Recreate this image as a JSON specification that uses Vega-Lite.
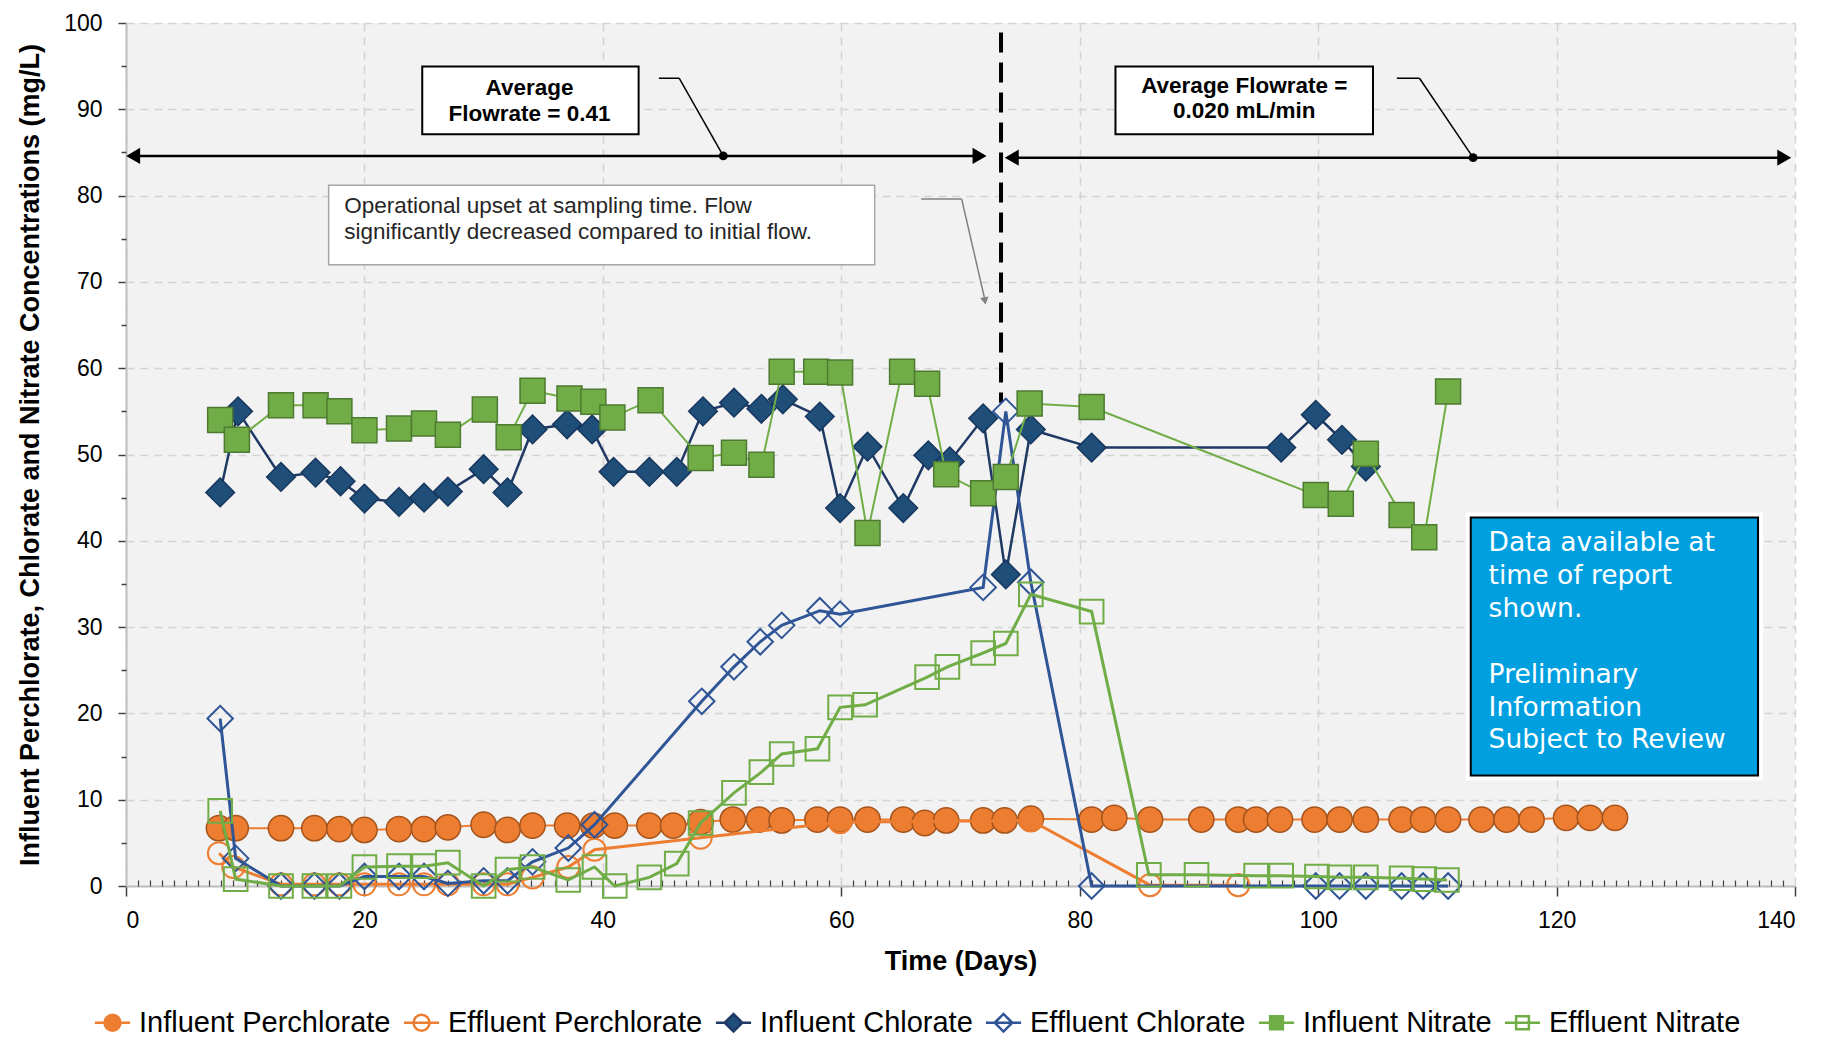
{
  "$schema": "https://vega.github.io/schema/vega-lite/v6.json",
  "width": 1669,
  "height": 863,
  "autosize": {"type": "none"},
  "padding": {"left": 126, "top": 23, "right": 41, "bottom": 153},
  "background": "white",
  "config": {
    "font": "Liberation Sans",
    "view": {"fill": "#f2f2f2", "stroke": null}
  },
  "datasets": {
    "obs": [
      {"s": "Influent Perchlorate", "d": 7.8, "c": 6.7}, {"s": "Influent Perchlorate", "d": 9.2, "c": 6.7}, {"s": "Influent Perchlorate", "d": 13.0, "c": 6.7}, {"s": "Influent Perchlorate", "d": 15.8, "c": 6.7}, {"s": "Influent Perchlorate", "d": 17.9, "c": 6.6}, {"s": "Influent Perchlorate", "d": 20.0, "c": 6.5}, {"s": "Influent Perchlorate", "d": 22.9, "c": 6.6}, {"s": "Influent Perchlorate", "d": 25.0, "c": 6.6}, {"s": "Influent Perchlorate", "d": 27.0, "c": 6.8}, {"s": "Influent Perchlorate", "d": 30.0, "c": 7.1}, {"s": "Influent Perchlorate", "d": 32.0, "c": 6.5}, {"s": "Influent Perchlorate", "d": 34.1, "c": 7.0}, {"s": "Influent Perchlorate", "d": 37.0, "c": 7.0}, {"s": "Influent Perchlorate", "d": 39.2, "c": 7.0}, {"s": "Influent Perchlorate", "d": 41.0, "c": 7.0}, {"s": "Influent Perchlorate", "d": 43.9, "c": 7.0}, {"s": "Influent Perchlorate", "d": 45.9, "c": 7.0}, {"s": "Influent Perchlorate", "d": 48.2, "c": 7.4}, {"s": "Influent Perchlorate", "d": 50.9, "c": 7.7}, {"s": "Influent Perchlorate", "d": 53.1, "c": 7.7}, {"s": "Influent Perchlorate", "d": 55.0, "c": 7.6}, {"s": "Influent Perchlorate", "d": 58.0, "c": 7.7}, {"s": "Influent Perchlorate", "d": 59.9, "c": 7.7}, {"s": "Influent Perchlorate", "d": 62.2, "c": 7.7}, {"s": "Influent Perchlorate", "d": 65.2, "c": 7.7}, {"s": "Influent Perchlorate", "d": 67.0, "c": 7.3}, {"s": "Influent Perchlorate", "d": 68.8, "c": 7.6}, {"s": "Influent Perchlorate", "d": 71.9, "c": 7.6}, {"s": "Influent Perchlorate", "d": 73.7, "c": 7.6}, {"s": "Influent Perchlorate", "d": 75.9, "c": 7.8}, {"s": "Influent Perchlorate", "d": 81.0, "c": 7.7}, {"s": "Influent Perchlorate", "d": 82.9, "c": 7.9}, {"s": "Influent Perchlorate", "d": 85.9, "c": 7.7}, {"s": "Influent Perchlorate", "d": 90.2, "c": 7.7}, {"s": "Influent Perchlorate", "d": 93.3, "c": 7.7}, {"s": "Influent Perchlorate", "d": 94.8, "c": 7.7}, {"s": "Influent Perchlorate", "d": 96.8, "c": 7.7}, {"s": "Influent Perchlorate", "d": 99.7, "c": 7.7}, {"s": "Influent Perchlorate", "d": 101.8, "c": 7.7}, {"s": "Influent Perchlorate", "d": 104.0, "c": 7.7}, {"s": "Influent Perchlorate", "d": 107.0, "c": 7.7}, {"s": "Influent Perchlorate", "d": 108.8, "c": 7.7}, {"s": "Influent Perchlorate", "d": 110.9, "c": 7.7}, {"s": "Influent Perchlorate", "d": 113.7, "c": 7.7}, {"s": "Influent Perchlorate", "d": 115.8, "c": 7.7}, {"s": "Influent Perchlorate", "d": 117.9, "c": 7.7}, {"s": "Influent Perchlorate", "d": 120.8, "c": 7.9}, {"s": "Influent Perchlorate", "d": 122.8, "c": 7.9}, {"s": "Influent Perchlorate", "d": 124.9, "c": 7.9},

      {"s": "Effluent Perchlorate", "d": 7.8, "c": 3.8}, {"s": "Effluent Perchlorate", "d": 9.0, "c": 2.2}, {"s": "Effluent Perchlorate", "d": 13.0, "c": 0.2}, {"s": "Effluent Perchlorate", "d": 15.8, "c": 0.2}, {"s": "Effluent Perchlorate", "d": 17.9, "c": 0.2}, {"s": "Effluent Perchlorate", "d": 20.0, "c": 0.2}, {"s": "Effluent Perchlorate", "d": 22.9, "c": 0.2}, {"s": "Effluent Perchlorate", "d": 25.0, "c": 0.2}, {"s": "Effluent Perchlorate", "d": 27.0, "c": 0.2}, {"s": "Effluent Perchlorate", "d": 30.0, "c": 0.2}, {"s": "Effluent Perchlorate", "d": 32.0, "c": 0.2}, {"s": "Effluent Perchlorate", "d": 34.1, "c": 1.0}, {"s": "Effluent Perchlorate", "d": 37.1, "c": 2.2}, {"s": "Effluent Perchlorate", "d": 39.3, "c": 4.2}, {"s": "Effluent Perchlorate", "d": 48.2, "c": 5.6}, {"s": "Effluent Perchlorate", "d": 59.9, "c": 7.4}, {"s": "Effluent Perchlorate", "d": 75.9, "c": 7.6}, {"s": "Effluent Perchlorate", "d": 85.9, "c": 0.1}, {"s": "Effluent Perchlorate", "d": 93.3, "c": 0.1},

      {"s": "Influent Chlorate", "d": 7.9, "c": 45.6}, {"s": "Influent Chlorate", "d": 9.4, "c": 55.0}, {"s": "Influent Chlorate", "d": 13.0, "c": 47.4}, {"s": "Influent Chlorate", "d": 15.9, "c": 47.9}, {"s": "Influent Chlorate", "d": 18.0, "c": 46.9}, {"s": "Influent Chlorate", "d": 20.0, "c": 44.9}, {"s": "Influent Chlorate", "d": 22.9, "c": 44.5}, {"s": "Influent Chlorate", "d": 25.0, "c": 45.0}, {"s": "Influent Chlorate", "d": 27.0, "c": 45.7}, {"s": "Influent Chlorate", "d": 30.0, "c": 48.3}, {"s": "Influent Chlorate", "d": 32.0, "c": 45.6}, {"s": "Influent Chlorate", "d": 34.1, "c": 52.9}, {"s": "Influent Chlorate", "d": 37.0, "c": 53.5}, {"s": "Influent Chlorate", "d": 39.1, "c": 52.9}, {"s": "Influent Chlorate", "d": 40.9, "c": 48.0}, {"s": "Influent Chlorate", "d": 43.9, "c": 48.0}, {"s": "Influent Chlorate", "d": 46.2, "c": 48.0}, {"s": "Influent Chlorate", "d": 48.4, "c": 55.0}, {"s": "Influent Chlorate", "d": 51.0, "c": 56.0}, {"s": "Influent Chlorate", "d": 53.3, "c": 55.3}, {"s": "Influent Chlorate", "d": 55.1, "c": 56.4}, {"s": "Influent Chlorate", "d": 58.2, "c": 54.4}, {"s": "Influent Chlorate", "d": 59.9, "c": 43.8}, {"s": "Influent Chlorate", "d": 62.2, "c": 50.9}, {"s": "Influent Chlorate", "d": 65.2, "c": 43.8}, {"s": "Influent Chlorate", "d": 67.3, "c": 49.9}, {"s": "Influent Chlorate", "d": 69.1, "c": 49.2}, {"s": "Influent Chlorate", "d": 71.9, "c": 54.2}, {"s": "Influent Chlorate", "d": 73.8, "c": 36.1}, {"s": "Influent Chlorate", "d": 75.9, "c": 52.9}, {"s": "Influent Chlorate", "d": 81.0, "c": 50.8}, {"s": "Influent Chlorate", "d": 96.9, "c": 50.8}, {"s": "Influent Chlorate", "d": 99.8, "c": 54.6}, {"s": "Influent Chlorate", "d": 102.0, "c": 51.7}, {"s": "Influent Chlorate", "d": 104.0, "c": 48.6},

      {"s": "Effluent Chlorate", "d": 7.9, "c": 19.4}, {"s": "Effluent Chlorate", "d": 9.2, "c": 3.2}, {"s": "Effluent Chlorate", "d": 13.0, "c": 0.0}, {"s": "Effluent Chlorate", "d": 15.8, "c": 0.0}, {"s": "Effluent Chlorate", "d": 17.9, "c": 0.0}, {"s": "Effluent Chlorate", "d": 20.0, "c": 1.1}, {"s": "Effluent Chlorate", "d": 22.9, "c": 1.1}, {"s": "Effluent Chlorate", "d": 25.0, "c": 1.1}, {"s": "Effluent Chlorate", "d": 27.0, "c": 0.3}, {"s": "Effluent Chlorate", "d": 30.0, "c": 0.6}, {"s": "Effluent Chlorate", "d": 32.0, "c": 0.6}, {"s": "Effluent Chlorate", "d": 34.1, "c": 2.8}, {"s": "Effluent Chlorate", "d": 37.1, "c": 4.4}, {"s": "Effluent Chlorate", "d": 39.3, "c": 7.1}, {"s": "Effluent Chlorate", "d": 48.3, "c": 21.4}, {"s": "Effluent Chlorate", "d": 51.0, "c": 25.4}, {"s": "Effluent Chlorate", "d": 53.2, "c": 28.3}, {"s": "Effluent Chlorate", "d": 55.0, "c": 30.2}, {"s": "Effluent Chlorate", "d": 58.2, "c": 31.9}, {"s": "Effluent Chlorate", "d": 59.9, "c": 31.5}, {"s": "Effluent Chlorate", "d": 71.9, "c": 34.6}, {"s": "Effluent Chlorate", "d": 73.8, "c": 55.0}, {"s": "Effluent Chlorate", "d": 75.9, "c": 35.2}, {"s": "Effluent Chlorate", "d": 81.0, "c": 0.0}, {"s": "Effluent Chlorate", "d": 99.8, "c": 0.0}, {"s": "Effluent Chlorate", "d": 101.8, "c": 0.0}, {"s": "Effluent Chlorate", "d": 104.0, "c": 0.0}, {"s": "Effluent Chlorate", "d": 107.0, "c": 0.0}, {"s": "Effluent Chlorate", "d": 108.8, "c": 0.0}, {"s": "Effluent Chlorate", "d": 110.9, "c": 0.0},

      {"s": "Influent Nitrate", "d": 7.9, "c": 54.0}, {"s": "Influent Nitrate", "d": 9.3, "c": 51.7}, {"s": "Influent Nitrate", "d": 13.0, "c": 55.7}, {"s": "Influent Nitrate", "d": 15.9, "c": 55.7}, {"s": "Influent Nitrate", "d": 17.9, "c": 55.0}, {"s": "Influent Nitrate", "d": 20.0, "c": 52.8}, {"s": "Influent Nitrate", "d": 22.9, "c": 53.0}, {"s": "Influent Nitrate", "d": 25.0, "c": 53.6}, {"s": "Influent Nitrate", "d": 27.0, "c": 52.3}, {"s": "Influent Nitrate", "d": 30.1, "c": 55.2}, {"s": "Influent Nitrate", "d": 32.1, "c": 52.0}, {"s": "Influent Nitrate", "d": 34.1, "c": 57.4}, {"s": "Influent Nitrate", "d": 37.2, "c": 56.5}, {"s": "Influent Nitrate", "d": 39.2, "c": 56.1}, {"s": "Influent Nitrate", "d": 40.8, "c": 54.3}, {"s": "Influent Nitrate", "d": 44.0, "c": 56.3}, {"s": "Influent Nitrate", "d": 48.2, "c": 49.6}, {"s": "Influent Nitrate", "d": 51.0, "c": 50.2}, {"s": "Influent Nitrate", "d": 53.3, "c": 48.8}, {"s": "Influent Nitrate", "d": 55.0, "c": 59.6}, {"s": "Influent Nitrate", "d": 57.9, "c": 59.6}, {"s": "Influent Nitrate", "d": 59.9, "c": 59.5}, {"s": "Influent Nitrate", "d": 62.2, "c": 40.9}, {"s": "Influent Nitrate", "d": 65.1, "c": 59.6}, {"s": "Influent Nitrate", "d": 67.2, "c": 58.2}, {"s": "Influent Nitrate", "d": 68.8, "c": 47.7}, {"s": "Influent Nitrate", "d": 71.9, "c": 45.5}, {"s": "Influent Nitrate", "d": 73.8, "c": 47.4}, {"s": "Influent Nitrate", "d": 75.8, "c": 55.9}, {"s": "Influent Nitrate", "d": 81.0, "c": 55.5}, {"s": "Influent Nitrate", "d": 99.8, "c": 45.3}, {"s": "Influent Nitrate", "d": 101.9, "c": 44.3}, {"s": "Influent Nitrate", "d": 104.0, "c": 50.1}, {"s": "Influent Nitrate", "d": 107.0, "c": 43.0}, {"s": "Influent Nitrate", "d": 108.9, "c": 40.4}, {"s": "Influent Nitrate", "d": 110.9, "c": 57.3},

      {"s": "Effluent Nitrate", "d": 7.9, "c": 8.7}, {"s": "Effluent Nitrate", "d": 9.2, "c": 0.8}, {"s": "Effluent Nitrate", "d": 13.0, "c": 0.0}, {"s": "Effluent Nitrate", "d": 15.8, "c": 0.0}, {"s": "Effluent Nitrate", "d": 17.9, "c": 0.0}, {"s": "Effluent Nitrate", "d": 20.0, "c": 2.2}, {"s": "Effluent Nitrate", "d": 22.9, "c": 2.3}, {"s": "Effluent Nitrate", "d": 25.0, "c": 2.3}, {"s": "Effluent Nitrate", "d": 27.0, "c": 2.7}, {"s": "Effluent Nitrate", "d": 30.0, "c": 0.0}, {"s": "Effluent Nitrate", "d": 32.0, "c": 1.9}, {"s": "Effluent Nitrate", "d": 34.1, "c": 2.2}, {"s": "Effluent Nitrate", "d": 37.1, "c": 0.7}, {"s": "Effluent Nitrate", "d": 39.3, "c": 2.2}, {"s": "Effluent Nitrate", "d": 41.0, "c": 0.0}, {"s": "Effluent Nitrate", "d": 43.9, "c": 1.0}, {"s": "Effluent Nitrate", "d": 46.2, "c": 2.6}, {"s": "Effluent Nitrate", "d": 48.2, "c": 7.3}, {"s": "Effluent Nitrate", "d": 51.0, "c": 10.8}, {"s": "Effluent Nitrate", "d": 53.3, "c": 13.2}, {"s": "Effluent Nitrate", "d": 55.0, "c": 15.3}, {"s": "Effluent Nitrate", "d": 58.0, "c": 15.9}, {"s": "Effluent Nitrate", "d": 59.9, "c": 20.7}, {"s": "Effluent Nitrate", "d": 62.0, "c": 21.0}, {"s": "Effluent Nitrate", "d": 67.2, "c": 24.2}, {"s": "Effluent Nitrate", "d": 68.9, "c": 25.4}, {"s": "Effluent Nitrate", "d": 71.9, "c": 27.0}, {"s": "Effluent Nitrate", "d": 73.8, "c": 28.1}, {"s": "Effluent Nitrate", "d": 75.9, "c": 33.8}, {"s": "Effluent Nitrate", "d": 81.0, "c": 31.8}, {"s": "Effluent Nitrate", "d": 85.8, "c": 1.3}, {"s": "Effluent Nitrate", "d": 89.8, "c": 1.3}, {"s": "Effluent Nitrate", "d": 94.8, "c": 1.2}, {"s": "Effluent Nitrate", "d": 96.9, "c": 1.2}, {"s": "Effluent Nitrate", "d": 99.9, "c": 1.1}, {"s": "Effluent Nitrate", "d": 101.8, "c": 1.0}, {"s": "Effluent Nitrate", "d": 104.0, "c": 1.0}, {"s": "Effluent Nitrate", "d": 107.0, "c": 0.9}, {"s": "Effluent Nitrate", "d": 108.9, "c": 0.8}, {"s": "Effluent Nitrate", "d": 110.8, "c": 0.7}
    ]
  },
  "resolve": {"axis": {"x": "independent", "y": "independent"}},
  "layer": [
    {
      "data": {"values": [{"x": 73.4, "x2": 73.4, "y": 98.9, "y2": 56}]},
      "mark": {"type": "rule", "color": "#000000", "strokeWidth": 4, "strokeDash": [20, 10]},
      "encoding": {
        "x": {"field": "x", "type": "quantitative", "scale": {"domain": [0, 140], "nice": false, "zero": false}, "axis": null},
        "x2": {"field": "x2"},
        "y": {"field": "y", "type": "quantitative", "scale": {"domain": [0, 100], "nice": false}, "axis": null},
        "y2": {"field": "y2"}
      }
    },
    {
      "data": {"values": [{"x": 24.85, "x2": 43.0, "y": 94.95, "y2": 87.1}, {"x": 83.0, "x2": 104.6, "y": 94.95, "y2": 87.1}]},
      "mark": {"type": "rect", "fill": "white", "stroke": "#000000", "strokeWidth": 2},
      "encoding": {
        "x": {"field": "x", "type": "quantitative", "axis": null},
        "x2": {"field": "x2"},
        "y": {"field": "y", "type": "quantitative", "axis": null},
        "y2": {"field": "y2"}
      }
    },
    {
      "data": {"values": [{"x": 17.0, "x2": 62.8, "y": 81.2, "y2": 72.0}]},
      "mark": {"type": "rect", "fill": "white", "stroke": "#a6a6a6", "strokeWidth": 1.5},
      "encoding": {
        "x": {"field": "x", "type": "quantitative", "axis": null},
        "x2": {"field": "x2"},
        "y": {"field": "y", "type": "quantitative", "axis": null},
        "y2": {"field": "y2"}
      }
    },
    {
      "data": {"values": [{"x": 112.8, "x2": 136.9, "y": 42.7, "y2": 12.8}]},
      "layer": [
        {"mark": {"type": "rect", "fill": "white", "stroke": "white", "strokeWidth": 10}},
        {"mark": {"type": "rect", "fill": "#00a0e0", "stroke": "#000000", "strokeWidth": 2}}
      ],
      "encoding": {
        "x": {"field": "x", "type": "quantitative", "axis": null},
        "x2": {"field": "x2"},
        "y": {"field": "y", "type": "quantitative", "axis": null},
        "y2": {"field": "y2"}
      }
    },
    {
      "data": {"values": [
        {"x": 33.85, "y": 92.5, "t": "Average"},
        {"x": 33.85, "y": 89.5, "t": "Flowrate = 0.41"},
        {"x": 93.8, "y": 92.75, "t": "Average Flowrate ="},
        {"x": 93.8, "y": 89.8, "t": "0.020 mL/min"}
      ]},
      "mark": {"type": "text", "align": "center", "baseline": "middle", "font": "Liberation Sans", "fontWeight": "bold", "fontSize": 22.5, "color": "#000000"},
      "encoding": {
        "x": {"field": "x", "type": "quantitative", "axis": null},
        "y": {"field": "y", "type": "quantitative", "axis": null},
        "text": {"field": "t"}
      }
    },
    {
      "data": {"values": [
        {"x": 18.3, "y": 78.8, "t": "Operational upset at sampling time. Flow"},
        {"x": 18.3, "y": 75.8, "t": "significantly decreased compared to initial flow."}
      ]},
      "mark": {"type": "text", "align": "left", "baseline": "middle", "font": "Liberation Sans", "fontSize": 22.5, "color": "#262626"},
      "encoding": {
        "x": {"field": "x", "type": "quantitative", "axis": null},
        "y": {"field": "y", "type": "quantitative", "axis": null},
        "text": {"field": "t"}
      }
    },
    {
      "data": {"values": [
        {"x": 114.3, "y": 39.7, "t": "Data available at"},
        {"x": 114.3, "y": 35.9, "t": "time of report"},
        {"x": 114.3, "y": 32.1, "t": "shown."},
        {"x": 114.3, "y": 24.4, "t": "Preliminary"},
        {"x": 114.3, "y": 20.6, "t": "Information"},
        {"x": 114.3, "y": 16.9, "t": "Subject to Review"}
      ]},
      "mark": {"type": "text", "align": "left", "baseline": "middle", "font": "DejaVu Sans", "fontSize": 26.5, "color": "white"},
      "encoding": {
        "x": {"field": "x", "type": "quantitative", "axis": null},
        "y": {"field": "y", "type": "quantitative", "axis": null},
        "text": {"field": "t"}
      }
    },
    {
      "data": {"values": [
        {"x": 0.9, "x2": 71.3, "y": 84.6, "y2": 84.6},
        {"x": 74.6, "x2": 139.0, "y": 84.4, "y2": 84.4}
      ]},
      "mark": {"type": "rule", "color": "#000000", "strokeWidth": 2.5},
      "encoding": {
        "x": {"field": "x", "type": "quantitative", "axis": null},
        "x2": {"field": "x2"},
        "y": {"field": "y", "type": "quantitative", "axis": null},
        "y2": {"field": "y2"}
      }
    },
    {
      "data": {"values": [
        {"x": 44.7, "x2": 46.4, "y": 93.6, "y2": 93.6},
        {"x": 46.4, "x2": 50.1, "y": 93.6, "y2": 84.6},
        {"x": 106.6, "x2": 108.5, "y": 93.6, "y2": 93.6},
        {"x": 108.5, "x2": 113.0, "y": 93.6, "y2": 84.4}
      ]},
      "mark": {"type": "rule", "color": "#000000", "strokeWidth": 1.5},
      "encoding": {
        "x": {"field": "x", "type": "quantitative", "axis": null},
        "x2": {"field": "x2"},
        "y": {"field": "y", "type": "quantitative", "axis": null},
        "y2": {"field": "y2"}
      }
    },
    {
      "data": {"values": [
        {"x": 66.7, "x2": 70.1, "y": 79.6, "y2": 79.6},
        {"x": 70.1, "x2": 72.0, "y": 79.6, "y2": 68.2}
      ]},
      "mark": {"type": "rule", "color": "#808080", "strokeWidth": 1.5},
      "encoding": {
        "x": {"field": "x", "type": "quantitative", "axis": null},
        "x2": {"field": "x2"},
        "y": {"field": "y", "type": "quantitative", "axis": null},
        "y2": {"field": "y2"}
      }
    },
    {
      "data": {"values": [{"x": 72.05, "y": 67.8}]},
      "mark": {"type": "point", "shape": "triangle-down", "filled": true, "color": "#808080", "size": 70, "angle": 350, "opacity": 1},
      "encoding": {
        "x": {"field": "x", "type": "quantitative", "axis": null},
        "y": {"field": "y", "type": "quantitative", "axis": null}
      }
    },
    {
      "data": {"values": [{"x": 71.6, "y": 84.6}, {"x": 139.1, "y": 84.4}]},
      "mark": {"type": "point", "shape": "triangle-right", "filled": true, "color": "#000000", "size": 260, "opacity": 1},
      "encoding": {
        "x": {"field": "x", "type": "quantitative", "axis": null},
        "y": {"field": "y", "type": "quantitative", "axis": null}
      }
    },
    {
      "data": {"values": [{"x": 0.6, "y": 84.6}, {"x": 74.3, "y": 84.4}]},
      "mark": {"type": "point", "shape": "triangle-left", "filled": true, "color": "#000000", "size": 260, "opacity": 1},
      "encoding": {
        "x": {"field": "x", "type": "quantitative", "axis": null},
        "y": {"field": "y", "type": "quantitative", "axis": null}
      }
    },
    {
      "data": {"values": [{"x": 50.1, "y": 84.6}, {"x": 113.0, "y": 84.4}]},
      "mark": {"type": "point", "shape": "circle", "filled": true, "color": "#000000", "size": 80, "opacity": 1},
      "encoding": {
        "x": {"field": "x", "type": "quantitative", "axis": null},
        "y": {"field": "y", "type": "quantitative", "axis": null}
      }
    },

    {
      "data": {"name": "obs"},
      "transform": [{"filter": "datum.s === 'Influent Perchlorate'"}],
      "mark": {"type": "line", "color": "#ed7d31", "strokeWidth": 2},
      "encoding": {
        "x": {"field": "d", "type": "quantitative", "scale": {"domain": [0, 140], "nice": false, "zero": false},
          "axis": {"orient": "bottom", "values": [0, 20, 40, 60, 80, 100, 120, 140], "title": "Time (Days)", "grid": true, "gridDash": [8, 6], "gridColor": "#d3d3d3", "gridWidth": 1.5,
            "domainColor": "#bfbfbf", "domainWidth": 2, "tickColor": "#404040", "tickSize": 10, "tickWidth": 1.5,
            "labelFont": "Liberation Sans", "labelFontSize": 23, "labelColor": "#000000", "labelPadding": 13,
            "titleFont": "Liberation Sans", "titleFontSize": 27, "titleFontWeight": "bold", "titleColor": "#000000", "titlePadding": 16}},
        "y": {"field": "c", "type": "quantitative", "scale": {"domain": [0, 100], "nice": false},
          "axis": {"orient": "left", "values": [0, 10, 20, 30, 40, 50, 60, 70, 80, 90, 100], "title": "Influent Perchlorate, Chlorate and Nitrate Concentrations (mg/L)", "grid": true, "gridDash": [8, 6], "gridColor": "#d3d3d3", "gridWidth": 1.5,
            "domainColor": "#bfbfbf", "domainWidth": 2, "tickColor": "#404040", "tickSize": 8, "tickWidth": 1.5,
            "labelFont": "Liberation Sans", "labelFontSize": 23, "labelColor": "#000000", "labelPadding": 16,
            "titleFont": "Liberation Sans", "titleFontSize": 27, "titleFontWeight": "bold", "titleColor": "#000000", "titlePadding": 19}}
      }
    },
    {
      "data": {"name": "obs"},
      "transform": [{"filter": "datum.s === 'Influent Perchlorate'"}],
      "mark": {"type": "point", "shape": "circle", "filled": true, "fill": "#ed7d31", "stroke": "#a5541c", "strokeWidth": 1.5, "size": 640, "opacity": 1},
      "encoding": {
        "x": {"field": "d", "type": "quantitative",
          "axis": {"orient": "bottom", "values": [1,2,3,4,5,6,7,8,9,10,11,12,13,14,15,16,17,18,19,21,22,23,24,25,26,27,28,29,30,31,32,33,34,35,36,37,38,39,41,42,43,44,45,46,47,48,49,50,51,52,53,54,55,56,57,58,59,61,62,63,64,65,66,67,68,69,70,71,72,73,74,75,76,77,78,79,81,82,83,84,85,86,87,88,89,90,91,92,93,94,95,96,97,98,99,101,102,103,104,105,106,107,108,109,110,111,112,113,114,115,116,117,118,119,121,122,123,124,125,126,127,128,129,130,131,132,133,134,135,136,137,138,139],
            "labels": false, "domain": false, "grid": false, "tickSize": -6, "tickColor": "#404040", "tickWidth": 1.2, "title": null}},
        "y": {"field": "c", "type": "quantitative", "axis": null}
      }
    },
    {
      "data": {"name": "obs"},
      "transform": [{"filter": "datum.s === 'Effluent Perchlorate'"}],
      "mark": {"type": "line", "color": "#ed7d31", "strokeWidth": 3},
      "encoding": {
        "x": {"field": "d", "type": "quantitative", "axis": null},
        "y": {"field": "c", "type": "quantitative",
          "axis": {"orient": "left", "values": [5, 15, 25, 35, 45, 55, 65, 75, 85, 95], "labels": false, "domain": false, "grid": false, "tickSize": 5, "tickColor": "#404040", "tickWidth": 1.5, "title": null}}
      }
    },
    {
      "data": {"name": "obs"},
      "transform": [{"filter": "datum.s === 'Effluent Perchlorate'"}],
      "mark": {"type": "point", "shape": "circle", "filled": false, "stroke": "#ed7d31", "strokeWidth": 2, "size": 490, "opacity": 1},
      "encoding": {
        "x": {"field": "d", "type": "quantitative", "axis": null},
        "y": {"field": "c", "type": "quantitative", "axis": null}
      }
    },
    {
      "data": {"name": "obs"},
      "transform": [{"filter": "datum.s === 'Influent Chlorate'"}],
      "mark": {"type": "line", "color": "#1f3864", "strokeWidth": 2.5},
      "encoding": {
        "x": {"field": "d", "type": "quantitative", "axis": null},
        "y": {"field": "c", "type": "quantitative", "axis": null}
      }
    },
    {
      "data": {"name": "obs"},
      "transform": [{"filter": "datum.s === 'Influent Chlorate'"}],
      "mark": {"type": "point", "shape": "diamond", "filled": true, "fill": "#1f4e79", "stroke": "#17375e", "strokeWidth": 1.5, "size": 820, "opacity": 1},
      "encoding": {
        "x": {"field": "d", "type": "quantitative", "axis": null},
        "y": {"field": "c", "type": "quantitative", "axis": null}
      }
    },
    {
      "data": {"name": "obs"},
      "transform": [{"filter": "datum.s === 'Effluent Chlorate'"}],
      "mark": {"type": "line", "color": "#2f5597", "strokeWidth": 3},
      "encoding": {
        "x": {"field": "d", "type": "quantitative", "axis": null},
        "y": {"field": "c", "type": "quantitative", "axis": null}
      }
    },
    {
      "data": {"name": "obs"},
      "transform": [{"filter": "datum.s === 'Effluent Chlorate'"}],
      "mark": {"type": "point", "shape": "diamond", "filled": false, "stroke": "#2f5597", "strokeWidth": 2, "size": 650, "opacity": 1},
      "encoding": {
        "x": {"field": "d", "type": "quantitative", "axis": null},
        "y": {"field": "c", "type": "quantitative", "axis": null}
      }
    },
    {
      "data": {"name": "obs"},
      "transform": [{"filter": "datum.s === 'Influent Nitrate'"}],
      "mark": {"type": "line", "color": "#70ad47", "strokeWidth": 2},
      "encoding": {
        "x": {"field": "d", "type": "quantitative", "axis": null},
        "y": {"field": "c", "type": "quantitative", "axis": null}
      }
    },
    {
      "data": {"name": "obs"},
      "transform": [{"filter": "datum.s === 'Influent Nitrate'"}],
      "mark": {"type": "point", "shape": "square", "filled": true, "fill": "#70ad47", "stroke": "#4e7a31", "strokeWidth": 1.5, "size": 625, "opacity": 1},
      "encoding": {
        "x": {"field": "d", "type": "quantitative", "axis": null},
        "y": {"field": "c", "type": "quantitative", "axis": null}
      }
    },
    {
      "data": {"name": "obs"},
      "transform": [{"filter": "datum.s === 'Effluent Nitrate'"}],
      "mark": {"type": "line", "color": "#70ad47", "strokeWidth": 3},
      "encoding": {
        "x": {"field": "d", "type": "quantitative", "axis": null},
        "y": {"field": "c", "type": "quantitative", "axis": null}
      }
    },
    {
      "data": {"name": "obs"},
      "transform": [{"filter": "datum.s === 'Effluent Nitrate'"}],
      "mark": {"type": "point", "shape": "square", "filled": false, "stroke": "#70ad47", "strokeWidth": 2, "size": 560, "opacity": 1},
      "encoding": {
        "x": {"field": "d", "type": "quantitative", "axis": null},
        "y": {"field": "c", "type": "quantitative", "axis": null}
      }
    },
    {
      "data": {"name": "obs"},
      "transform": [{"filter": "false"}],
      "mark": {"type": "point", "filled": true, "opacity": 1},
      "encoding": {
        "x": {"field": "d", "type": "quantitative", "axis": null},
        "y": {"field": "c", "type": "quantitative", "axis": null},
        "shape": {"field": "s", "type": "nominal",
          "scale": {"domain": ["Influent Perchlorate", "Effluent Perchlorate", "Influent Chlorate", "Effluent Chlorate", "Influent Nitrate", "Effluent Nitrate"],
            "range": ["M-2.2,0H-1M1,0H2.2M-1,0A1,1,0,1,1,1,0A1,1,0,1,1,-1,0Z", "M-2.2,0H2.2M-1,0A1,1,0,1,1,1,0A1,1,0,1,1,-1,0Z", "M-2.2,0H-1.1M1.1,0H2.2M-1.1,0L0,-1.1L1.1,0L0,1.1Z", "M-2.2,0H2.2M-1.1,0L0,-1.1L1.1,0L0,1.1Z", "M-2.2,0H-0.8M0.8,0H2.2M-0.8,-0.8H0.8V0.8H-0.8Z", "M-2.2,0H2.2M-0.8,-0.8H0.8V0.8H-0.8Z"]},
          "legend": {"orient": "none", "legendX": -28, "legendY": 985, "direction": "horizontal", "columns": 6, "title": null,
            "labelFont": "Liberation Sans", "labelFontSize": 29, "labelColor": "#000000", "labelLimit": 500, "symbolSize": 256, "symbolStrokeWidth": 2.5, "symbolOpacity": 1, "labelOffset": 12, "columnPadding": 7}},
        "fill": {"field": "s", "type": "nominal",
          "scale": {"domain": ["Influent Perchlorate", "Effluent Perchlorate", "Influent Chlorate", "Effluent Chlorate", "Influent Nitrate", "Effluent Nitrate"],
            "range": ["#ed7d31", "transparent", "#1f4e79", "transparent", "#70ad47", "transparent"]},
          "legend": {"orient": "none", "legendX": -28, "legendY": 985, "direction": "horizontal", "columns": 6, "title": null,
            "labelFont": "Liberation Sans", "labelFontSize": 29, "labelColor": "#000000", "labelLimit": 500, "symbolSize": 256, "symbolStrokeWidth": 2.5, "symbolOpacity": 1, "labelOffset": 12, "columnPadding": 7}},
        "stroke": {"field": "s", "type": "nominal",
          "scale": {"domain": ["Influent Perchlorate", "Effluent Perchlorate", "Influent Chlorate", "Effluent Chlorate", "Influent Nitrate", "Effluent Nitrate"],
            "range": ["#ed7d31", "#ed7d31", "#1f3864", "#2f5597", "#70ad47", "#70ad47"]},
          "legend": {"orient": "none", "legendX": -28, "legendY": 985, "direction": "horizontal", "columns": 6, "title": null,
            "labelFont": "Liberation Sans", "labelFontSize": 29, "labelColor": "#000000", "labelLimit": 500, "symbolSize": 256, "symbolStrokeWidth": 2.5, "symbolOpacity": 1, "labelOffset": 12, "columnPadding": 7}}
      }
    }
  ]
}
